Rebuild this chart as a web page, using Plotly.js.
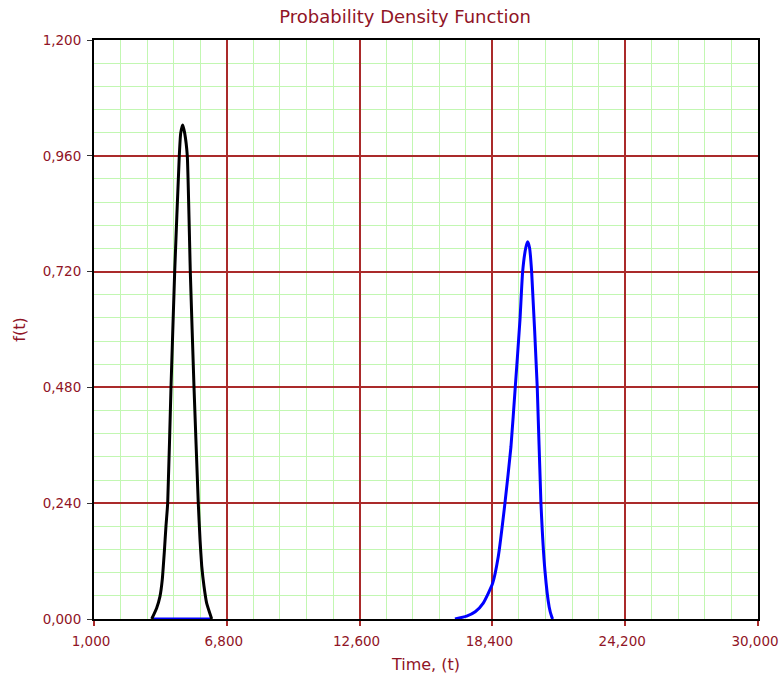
<!DOCTYPE html>
<html>
<head>
<meta charset="utf-8">
<script src="https://cdn.plot.ly/plotly-3.0.1.min.js"></script>
<style>html,body{margin:0;padding:0;background:#fff;}#chart{width:779px;height:678px;}</style>
</head>
<body>
<div id="chart"></div>
<script>
// Black PDF curve (time, density)
const blackT = [3520, 3738, 3882, 3983, 4070, 4144, 4219, 4363, 4524, 4725, 4787, 4874, 4961, 5075, 5206, 5368, 5555, 5630, 5704, 5804, 5920, 6140];
const blackF = [0.000, 0.023, 0.047, 0.082, 0.138, 0.193, 0.240, 0.480, 0.720, 0.960, 1.007, 1.024, 1.007, 0.960, 0.720, 0.480, 0.240, 0.165, 0.110, 0.068, 0.033, 0.000];

// Blue PDF curve (time, density); first segment is the flat part under the black curve
const blueT = [3520, 6140, null, 16765, 17275, 17650, 18001, 18411, 18655, 18948, 19210, 19398, 19604, 19721, 19860, 19940, 20020, 20114, 20359, 20520, 20695, 20880, 20987, 21030];
const blueF = [0, 0, null, 0.000, 0.006, 0.015, 0.033, 0.074, 0.129, 0.240, 0.357, 0.480, 0.620, 0.720, 0.770, 0.782, 0.770, 0.720, 0.480, 0.240, 0.100, 0.025, 0.005, 0.000];

const titleText = 'Probability Density Function';
const xTitle = 'Time, (t)';
const yTitle = 'f(t)';

const red = '#901426';
const grid = '#aa2a2a';
const minorGrid = '#c2f7b2';
const font = 'DejaVu Sans, Verdana, sans-serif';

const traces = [
  {x: blueT, y: blueF, type: 'scatter', mode: 'lines', line: {color: '#0000ff', width: 3, shape: 'spline', smoothing: 0.5}, connectgaps: false, hoverinfo: 'x+y'},
  {x: blackT, y: blackF, type: 'scatter', mode: 'lines', line: {color: '#000000', width: 3, shape: 'spline', smoothing: 0.4}, hoverinfo: 'x+y'}
];

const layout = {
  width: 779, height: 678,
  margin: {l: 94, r: 21, t: 40, b: 59},
  paper_bgcolor: '#ffffff', plot_bgcolor: '#ffffff',
  separators: ',,',
  showlegend: false,
  font: {family: font, color: red, size: 13},
  title: {text: titleText, font: {family: font, size: 18, color: red}, x: 0.52, xref: 'container', xanchor: 'center', y: 0.975, yref: 'container', yanchor: 'middle'},
  xaxis: {
    range: [1000, 30000], tickmode: 'linear', tick0: 1000, dtick: 5800, tickformat: ',d',
    showgrid: true, gridcolor: grid, gridwidth: 2,
    minor: {tickmode: 'linear', tick0: 1000, dtick: 1160, showgrid: true, gridcolor: minorGrid, gridwidth: 1},
    zeroline: false, showline: true, linecolor: '#000', linewidth: 2, mirror: true,
    ticks: 'outside', ticklen: 5, tickcolor: grid, tickwidth: 2,
    ticklabeloverflow: 'allow', ticklabelshift: -3, ticklabelstandoff: 4,
    tickfont: {family: font, size: 13.5, color: red},
    title: {text: xTitle, font: {family: font, size: 16, color: red}, standoff: 11},
    layer: 'below traces', fixedrange: true
  },
  yaxis: {
    range: [0, 1.2], tickmode: 'linear', tick0: 0, dtick: 0.24, tickformat: '.3f',
    showgrid: true, gridcolor: grid, gridwidth: 2,
    minor: {tickmode: 'linear', tick0: 0, dtick: 0.048, showgrid: true, gridcolor: minorGrid, gridwidth: 1},
    zeroline: false, showline: true, linecolor: '#000', linewidth: 2, mirror: true,
    ticks: 'outside', ticklen: 5, tickcolor: '#333', tickwidth: 1,
    ticklabeloverflow: 'allow', ticklabelstandoff: 3,
    tickfont: {family: font, size: 13.5, color: red},
    title: {text: yTitle, font: {family: font, size: 16, color: red}, standoff: 13},
    layer: 'below traces', fixedrange: true
  }
};

Plotly.newPlot('chart', traces, layout, {displayModeBar: false, staticPlot: true});
</script>
</body>
</html>
